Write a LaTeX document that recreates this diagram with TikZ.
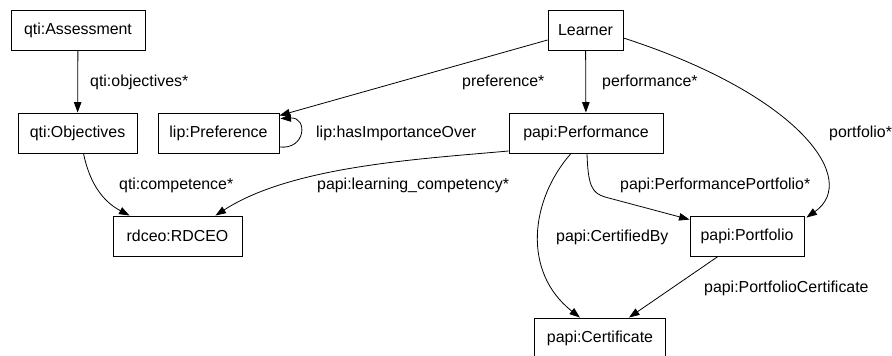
\documentclass[tikz,border=0pt]{standalone}
\usepackage{fontspec}
\setmainfont{Liberation Sans}
\usetikzlibrary{arrows.meta,calc}
\begin{document}
\begin{tikzpicture}[x=1pt,y=-1pt,
  font=\fontsize{15.9}{18}\selectfont,
  cls/.style={draw, line width=0.9pt, rectangle, minimum height=40pt, inner sep=0pt},
  rel/.style={draw, line width=0.8pt, -{Triangle[length=10.5pt,width=7.5pt]}},
  lbl/.style={anchor=west, inner sep=0pt}]
\useasboundingbox (0,0) rectangle (892,356);

% classes
\node[cls, minimum width=134pt] (ass)  at (78,30)    {qti:Assessment};
\node[cls, minimum width=75pt]  (lrn)  at (585.5,30) {Learner};
\node[cls, minimum width=119pt] (obj)  at (77.5,133) {qti:Objectives};
\node[cls, minimum width=121pt] (pref) at (218.5,133) {lip:Preference};
\node[cls, minimum width=154pt] (perf) at (586,133)  {papi:Performance};
\node[cls, minimum width=129pt] (rdc)  at (177.5,236) {rdceo:RDCEO};
\node[cls, minimum width=114pt] (port) at (747,236)  {papi:Portfolio};
\node[cls, minimum width=131pt] (cert) at (600,338)  {papi:Certificate};

% relations
\draw[rel] (ass) -- (obj);
\draw[rel] (lrn) -- (perf);
\draw[rel] ($(lrn.west)+(0,10)$) -- ($(pref.north east)+(0,3)$);
\draw[rel] ($(pref.east)+(0,14)$) .. controls (306,150) and (308,117) .. ($(pref.north east)+(1,6)$);
\draw[rel] ($(obj.south)+(6,0)$) .. controls (90,185) and (104,202) .. ($(rdc.north west)+(17,0)$);
\draw[rel] ($(perf.west)+(0,18)$) .. controls (420,159) and (292,166) .. ($(rdc.north east)+(-27,0)$);
\draw[rel] ($(perf.south)+(1,0)$) .. controls (588,186) and (592,193) .. (605,197) -- ($(port.north west)+(0,4)$);
\draw[rel] ($(perf.south)+(-15,0)$) .. controls (530,200) and (522,272) .. ($(cert.north)+(-20,0)$);
\draw[rel] ($(lrn.east)+(0,8)$) .. controls (800,95) and (860,180) .. ($(port.north east)+(2,2)$);
\draw[rel] ($(port.south)+(-29,0)$) -- ($(cert.north)+(29,0)$);

% relation labels
\node[lbl] (l1)  at (90,82)   {qti:objectives*};
\node[lbl] (l2)  at (462,82)  {preference*};
\node[lbl] (l3)  at (602,82)  {performance*};
\node[lbl] (l4)  at (316,133) {lip:hasImportanceOver};
\node[lbl] (l5)  at (829,133) {portfolio*};
\node[lbl] (l6)  at (119,185) {qti:competence*};
\node[lbl] (l7)  at (317,185) {papi:learning\_competency*};
\node[lbl] (l8)  at (620,185) {papi:PerformancePortfolio*};
\node[lbl] (l9)  at (556,237) {papi:CertifiedBy};
\node[lbl] (l10) at (704,288) {papi:PortfolioCertificate};
\end{tikzpicture}
\end{document}
